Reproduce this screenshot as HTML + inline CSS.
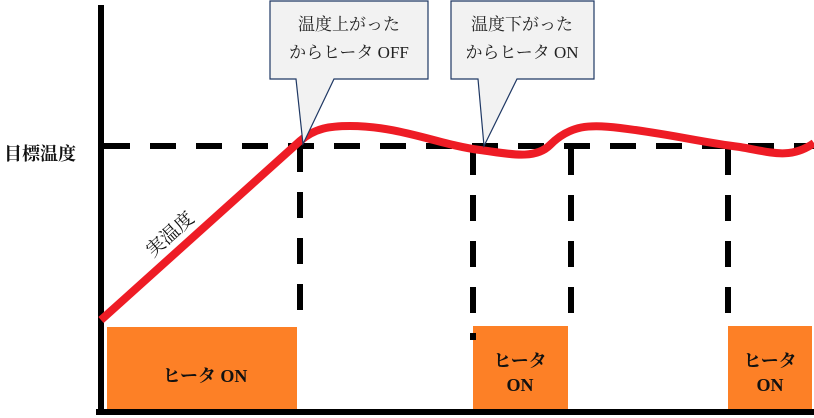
<!DOCTYPE html>
<html><head><meta charset="utf-8"><style>
body{margin:0;background:#fff;}
svg{display:block}
text{font-family:"Liberation Serif","Noto Serif CJK SC",serif;}
</style></head><body>
<svg width="814" height="418" viewBox="0 0 814 418" xmlns="http://www.w3.org/2000/svg">
<rect x="107" y="327" width="190" height="84" fill="#fd8026"/>
<rect x="473" y="326" width="95" height="85" fill="#fd8026"/>
<rect x="728" y="326" width="84" height="85" fill="#fd8026"/>
<g stroke="#000" stroke-width="6" fill="none" stroke-dasharray="26 20">
<line x1="104" y1="146" x2="814" y2="146"/>
<line x1="300" y1="146" x2="300" y2="326"/>
<line x1="473" y1="149" x2="473" y2="340"/>
<line x1="571" y1="149" x2="571" y2="326"/>
<line x1="728" y1="149" x2="728" y2="322"/>
</g>
<line x1="101" y1="5" x2="101" y2="415" stroke="#000" stroke-width="6"/>
<line x1="96" y1="412" x2="814" y2="412" stroke="#000" stroke-width="6"/>
<path d="M101,320 L300,141 C315,128 330,126 350,126 C400,126 440,145 480,150 C510,154 535,160 550,145 C570,125 590,124 620,128 C670,134 700,142 740,147 C770,152 790,160 814,143" fill="none" stroke="#ee1c25" stroke-width="8"/>
<path d="M270,1 H428 V79 H334 L303,144 L296,79 H270 Z" fill="#f2f2f2" stroke="#1f3864" stroke-width="1.2"/>
<path d="M451,1 H594 V79 H517 L484,146 L478,79 H451 Z" fill="#f2f2f2" stroke="#1f3864" stroke-width="1.2"/>
<g font-size="17" fill="#222" text-anchor="middle">
<text x="349" y="30">温度上がった</text>
<text x="349" y="58">からヒータ OFF</text>
<text x="522" y="30">温度下がった</text>
<text x="522" y="58">からヒータ ON</text>
</g>
<text x="4" y="160" font-size="18" font-weight="bold" fill="#111">目標温度</text>
<text x="0" y="0" font-size="19" fill="#111" transform="translate(153,258) rotate(-42)">実温度</text>
<g font-size="18" font-weight="bold" fill="#111" text-anchor="middle">
<text x="205" y="382">ヒータ ON</text>
<text x="520" y="367">ヒータ</text>
<text x="520" y="391">ON</text>
<text x="770" y="367">ヒータ</text>
<text x="770" y="391">ON</text>
</g>
</svg>
</body></html>
